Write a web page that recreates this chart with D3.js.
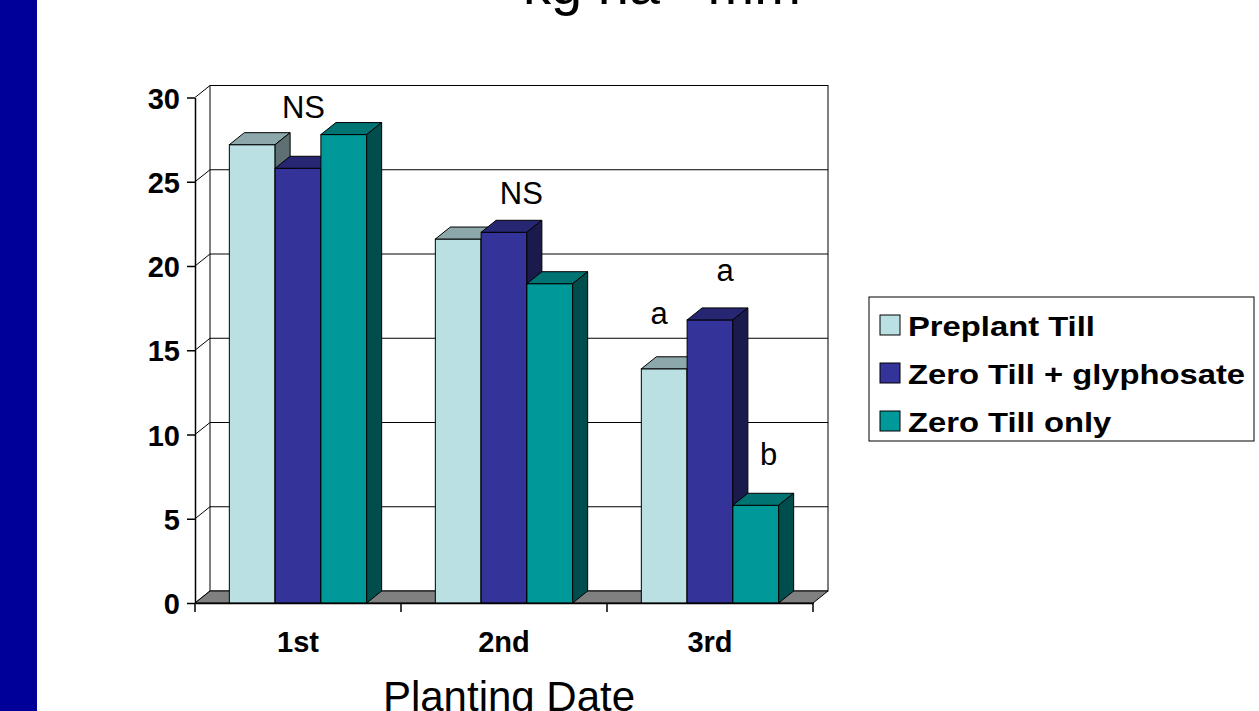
<!DOCTYPE html>
<html>
<head>
<meta charset="utf-8">
<script src="https://cdn.jsdelivr.net/npm/d3@7"></script>
<style>
  html, body { margin: 0; padding: 0; background: #ffffff; }
  svg { display: block; font-family: "Liberation Sans", Arial, Helvetica, sans-serif; }
</style>
</head>
<body>
<svg id="chart" width="1259" height="711"></svg>
<script>
// Planting dates along the x axis
const categories = ["1st", "2nd", "3rd"];

// Tillage treatments (legend order)
const seriesNames = ["Preplant Till", "Zero Till + glyphosate", "Zero Till only"];

// Values per planting date, kg ha-1 mm-1
const preplantTill       = [27.2, 21.6, 13.9];
const zeroTillGlyphosate = [25.8, 22.0, 16.8];
const zeroTillOnly       = [27.8, 18.95, 5.8];

// Value axis ticks
const yTicks = [0, 5, 10, 15, 20, 25, 30];

// Significance letters: text, planting date, treatment index, level (axis units), nudge (bar widths)
const noteText     = ["NS", "NS", "a", "a", "b"];
const noteCategory = ["1st", "2nd", "3rd", "3rd", "3rd"];
const noteSeries   = [1, 1, 0, 1, 2];
const noteLevel    = [28.8, 23.7, 16.55, 19.1, 8.2];
const noteNudge    = [0.12, 0.38, -0.11, 0.33, 0.28];

const seriesValues = [preplantTill, zeroTillGlyphosate, zeroTillOnly];

// Face colours for each treatment: front, top, side
const faceColors = [
  { front: "#bbe0e3", top: "#8ca8aa", side: "#5e7072" },
  { front: "#333399", top: "#262673", side: "#1a1a4d" },
  { front: "#009999", top: "#007373", side: "#004d4d" }
];

const svg = d3.select("#chart");

// Left accent strip
svg.append("rect").attr("x", 0).attr("y", 0).attr("width", 37).attr("height", 711).attr("fill", "#000099");

// Title (mostly above the visible area)
const title = svg.append("text")
  .attr("x", 523).attr("y", 4)
  .attr("font-size", 56).attr("fill", "#000");
title.append("tspan").text("kg ha");
title.append("tspan").attr("font-size", 36).attr("dy", -22).text("-1");
title.append("tspan").attr("dy", 22).text(" mm");
title.append("tspan").attr("font-size", 36).attr("dy", -22).text("-1");

// Geometry of the 3-D box
const depthX = 15, depthY = -12;
const x = d3.scaleBand().domain(categories).range([195, 813]).paddingInner(0).paddingOuter(0);
const xs = d3.scaleBand().domain(d3.range(seriesNames.length)).range([0, x.bandwidth()])
  .paddingInner(0).paddingOuter(0.75);
const y = d3.scaleLinear().domain([0, 30]).range([603, 97.5]);

const x0 = x.range()[0], x1 = x.range()[1];
const yTop = y(30), yBase = y(0);
const poly = pts => pts.map(p => p.join(",")).join(" ");

// Back wall
svg.append("rect")
  .attr("x", x0 + depthX).attr("y", yTop + depthY)
  .attr("width", x1 - x0).attr("height", yBase - yTop)
  .attr("fill", "#ffffff").attr("stroke", "#000").attr("stroke-width", 1);

// Back-wall gridlines
svg.append("g").selectAll("line")
  .data(yTicks.filter(t => t > 0 && t < 30))
  .join("line")
  .attr("x1", x0 + depthX).attr("x2", x1 + depthX)
  .attr("y1", d => y(d) + depthY).attr("y2", d => y(d) + depthY)
  .attr("stroke", "#000").attr("stroke-width", 1);

// Side-wall gridlines (diagonals from front axis to back wall)
svg.append("g").selectAll("line")
  .data(yTicks)
  .join("line")
  .attr("x1", x0).attr("x2", x0 + depthX)
  .attr("y1", d => y(d)).attr("y2", d => y(d) + depthY)
  .attr("stroke", "#000").attr("stroke-width", 1);

// Floor
svg.append("polygon")
  .attr("points", poly([[x0, yBase], [x1, yBase], [x1 + depthX, yBase + depthY], [x0 + depthX, yBase + depthY]]))
  .attr("fill", "#808080").attr("stroke", "#000").attr("stroke-width", 1);

// Bars as 3-D boxes, drawn left to right so neighbours overlap correctly
const bars = [];
categories.forEach((c, ci) => {
  seriesValues.forEach((vals, si) => {
    bars.push({ category: c, series: si, value: vals[ci] });
  });
});

const barG = svg.append("g");
bars.forEach(b => {
  const bx = x(b.category) + xs(b.series);
  const bw = xs.bandwidth();
  const top = y(b.value), bottom = y(0);
  const col = faceColors[b.series];
  const g = barG.append("g");
  g.append("rect")
    .attr("x", bx).attr("y", top).attr("width", bw).attr("height", bottom - top)
    .attr("fill", col.front).attr("stroke", "#000").attr("stroke-width", 1);
  g.append("polygon")
    .attr("points", poly([[bx, top], [bx + depthX, top + depthY], [bx + bw + depthX, top + depthY], [bx + bw, top]]))
    .attr("fill", col.top).attr("stroke", "#000").attr("stroke-width", 1).attr("stroke-linejoin", "round");
  g.append("polygon")
    .attr("points", poly([[bx + bw, top], [bx + bw + depthX, top + depthY], [bx + bw + depthX, bottom + depthY], [bx + bw, bottom]]))
    .attr("fill", col.side).attr("stroke", "#000").attr("stroke-width", 1).attr("stroke-linejoin", "round");
});

// Value axis
const yAxis = d3.axisLeft(y).tickValues(yTicks).tickSize(8).tickSizeOuter(0).tickPadding(7);
const yAxisG = svg.append("g").attr("transform", `translate(${x0},0)`).call(yAxis);
yAxisG.select(".domain").attr("stroke", "#000").attr("stroke-width", 1.5);
yAxisG.selectAll(".tick line").attr("stroke", "#000").attr("stroke-width", 1.5);
yAxisG.selectAll(".tick text")
  .attr("font-family", "'Liberation Sans', Arial, sans-serif")
  .attr("font-size", 29).attr("font-weight", "bold").attr("fill", "#000").attr("dy", "0.37em");

// Category axis: line, edge ticks and centred labels
const xAxis = d3.axisBottom(x).tickSize(0).tickSizeOuter(0).tickPadding(28);
const xAxisG = svg.append("g").attr("transform", `translate(0,${yBase})`).call(xAxis);
xAxisG.select(".domain").attr("stroke", "#000").attr("stroke-width", 1.5);
xAxisG.selectAll(".tick text")
  .attr("font-family", "'Liberation Sans', Arial, sans-serif")
  .attr("font-size", 29).attr("font-weight", "bold").attr("fill", "#000");

const edges = categories.map(c => x(c)).concat([x(categories[categories.length - 1]) + x.bandwidth()]);
svg.append("g").selectAll("line")
  .data(edges)
  .join("line")
  .attr("x1", d => d).attr("x2", d => d)
  .attr("y1", yBase).attr("y2", yBase + 9)
  .attr("stroke", "#000").attr("stroke-width", 1.5);

// Axis title (runs off the bottom edge)
svg.append("text")
  .attr("x", 509).attr("y", 711)
  .attr("text-anchor", "middle")
  .attr("font-size", 42).attr("fill", "#000")
  .text("Planting Date");

// Significance letters
svg.append("g").selectAll("text")
  .data(noteText.map((t, i) => ({ t, c: noteCategory[i], s: noteSeries[i], v: noteLevel[i], n: noteNudge[i] })))
  .join("text")
  .attr("x", d => x(d.c) + xs(d.s) + xs.bandwidth() * (0.5 + d.n))
  .attr("y", d => y(d.v))
  .attr("text-anchor", "middle")
  .attr("font-size", 31).attr("fill", "#000")
  .text(d => d.t);

// Legend
const legend = svg.append("g");
legend.append("rect")
  .attr("x", 869).attr("y", 297).attr("width", 385).attr("height", 144)
  .attr("fill", "#ffffff").attr("stroke", "#000").attr("stroke-width", 1);
const items = legend.selectAll("g.item")
  .data(seriesNames)
  .join("g").attr("class", "item")
  .attr("transform", (d, i) => `translate(880,${315 + i * 48})`);
items.append("rect")
  .attr("width", 20).attr("height", 20)
  .attr("fill", (d, i) => faceColors[i].front)
  .attr("stroke", "#000").attr("stroke-width", 1);
items.append("text")
  .attr("transform", "translate(28,21) scale(1.17,1)")
  .attr("font-size", 28).attr("font-weight", "bold").attr("fill", "#000")
  .text(d => d);
</script>
</body>
</html>
